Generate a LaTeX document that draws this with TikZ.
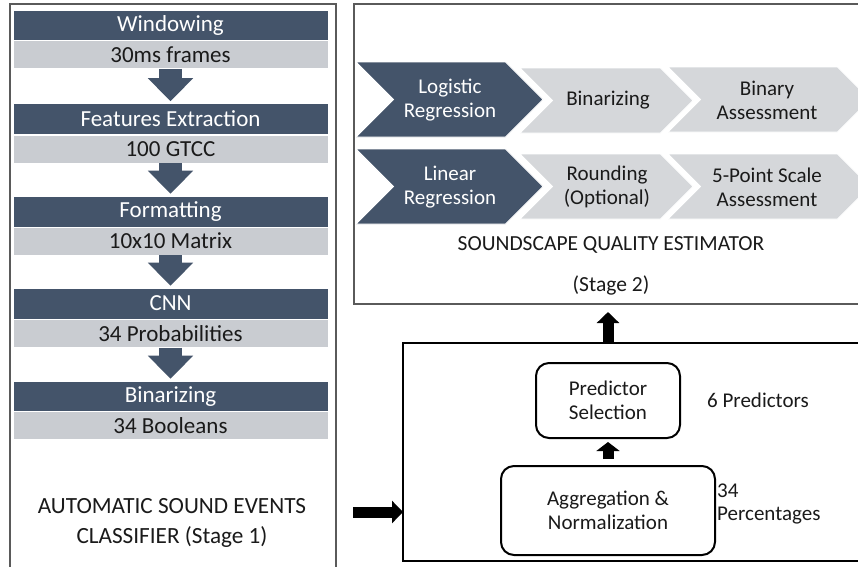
\documentclass[tikz,border=0pt]{standalone}
\usepackage{fontspec}
\setmainfont{Carlito}
\usetikzlibrary{arrows.meta}
\definecolor{slate}{HTML}{44546A}
\definecolor{barlight}{HTML}{C9CCD1}
\definecolor{chevlight}{HTML}{D5D7DA}
\definecolor{framegray}{HTML}{5A5A5A}
\definecolor{ink}{HTML}{1A1A1A}
\newcommand\mychev[5]{%
  \fill[#1, draw=white, line width=0.8pt] (#2,#4) -- ({#3-(#5-#4)/2},#4) -- (#3,{(#4+#5)/2}) -- ({#3-(#5-#4)/2},#5) -- (#2,#5) -- ({#2+(#5-#4)/2},{(#4+#5)/2}) -- cycle;}
\begin{document}
\begin{tikzpicture}[x=1pt,y=-1pt,
  darkbar/.style={fill=slate, draw=white, line width=0.6pt, minimum width=315pt, minimum height=31pt, inner sep=0pt, text=white, font=\fontsize{23}{26}\selectfont},
  lightbar/.style={fill=barlight, draw=white, line width=0.6pt, minimum width=315pt, minimum height=28pt, inner sep=0pt, text=ink, font=\fontsize{23}{26}\selectfont},
  downarrow/.style={draw=slate, line width=23pt, -{Triangle[length=23pt,width=44pt]}, shorten >=2pt},
  blk/.style={draw=black, line width=11pt, -{Triangle[length=11pt,width=22pt]}},
  frame/.style={draw=framegray, line width=1.2pt},
  bframe/.style={draw=black, line width=1.6pt},
  rbox/.style={draw=black, line width=2pt, rounded corners=13pt, inner sep=0pt, align=center, text=ink, font=\fontsize{21}{23.5}\selectfont},
  chevtxt/.style={align=center, inner sep=0pt, font=\fontsize{21}{24}\selectfont},
  lbl/.style={align=left, inner sep=0pt, text=ink, font=\fontsize{21}{22.5}\selectfont},
  ttl/.style={align=center, inner sep=0pt, text=ink, font=\fontsize{21.5}{30}\selectfont},
  ttlbig/.style={align=center, inner sep=0pt, text=ink, font=\fontsize{23.2}{30}\selectfont}
]
\useasboundingbox (0,0) rectangle (858,566);
\fill[white] (0,0) rectangle (858,566);
\begin{scope}
\clip (0,0) rectangle (858,566);
% frames
\draw[frame] (10,570) -- (10,4) -- (336,4) -- (336,570);
\draw[frame] (862,4) -- (354,4) -- (354,304) -- (862,304);
\draw[bframe] (862,343) -- (403,343) -- (403,561) -- (862,561);

% left pipeline bars
\node[darkbar]  (d1) at (170.5,25.5)  {Windowing};
\node[lightbar] (l1) at (170.5,54.5)  {30ms frames};
\node[darkbar]  (d2) at (170.5,119)   {Features Extraction};
\node[lightbar] (l2) at (170.5,149)   {100 GTCC};
\node[darkbar]  (d3) at (170.5,211.5) {Formatting};
\node[lightbar] (l3) at (170.5,241)   {10x10 Matrix};
\node[darkbar]  (d4) at (170.5,303.5) {CNN};
\node[lightbar] (l4) at (170.5,333.5) {34 Probabilities};
\node[darkbar]  (d5) at (170.5,396.5) {Binarizing};
\node[lightbar] (l5) at (170.5,425.5) {34 Booleans};
\draw[downarrow] (l1.south) -- (d2.north);
\draw[downarrow] (l2.south) -- (d3.north);
\draw[downarrow] (l3.south) -- (d4.north);
\draw[downarrow] (l4.south) -- (d5.north);
\node[ttlbig] (stage1) at (172,523) {AUTOMATIC SOUND EVENTS\\CLASSIFIER (Stage 1)};

% chevrons
\mychev{slate}{356}{543}{62}{137}
\mychev{chevlight}{520}{693}{68}{133}
\mychev{chevlight}{668}{870}{67}{132}
\mychev{slate}{356}{543}{149}{224}
\mychev{chevlight}{520}{693}{154}{219}
\mychev{chevlight}{668}{870}{154}{219}
\end{scope}
\node[chevtxt, text=white] (c11) at (450,100) {Logistic\\Regression};
\node[chevtxt, text=ink]   (c12) at (608,100) {Binarizing};
\node[chevtxt, text=ink]   (c13) at (767,100) {Binary\\Assessment};
\node[chevtxt, text=white] (c21) at (450,187) {Linear\\Regression};
\node[chevtxt, text=ink]   (c22) at (607,187) {Rounding\\(Optional)};
\node[chevtxt, text=ink]   (c23) at (767,187) {5-Point Scale\\Assessment};
\node[ttl] (sqe) at (611,245) {SOUNDSCAPE QUALITY ESTIMATOR};
\node[ttl] (stage2) at (611,285) {(Stage 2)};

% bottom-right box contents
\node[rbox, minimum width=144pt, minimum height=75pt] (pred) at (608,400.5) {Predictor\\Selection};
\node[rbox, minimum width=214pt, minimum height=89pt] (agg) at (608,510.5) {Aggregation \&\\Normalization};
\node[lbl, anchor=west] (np) at (707,400) {6 Predictors};
\node[lbl, anchor=west] (pc) at (717,504) {34\\Percentages};
\draw[blk, -{Triangle[length=9pt,width=23pt]}, shorten <=6pt, shorten >=3pt] (agg.north) -- (pred.south);

% inter-stage arrows
\coordinate (s1out) at (353,512);
\coordinate (boxW) at (403,512);
\coordinate (boxN) at (608,343);
\coordinate (topS) at (608,312);
\draw[blk] (s1out) -- (boxW);
\draw[blk] (boxN) -- (topS);
\end{tikzpicture}
\end{document}
